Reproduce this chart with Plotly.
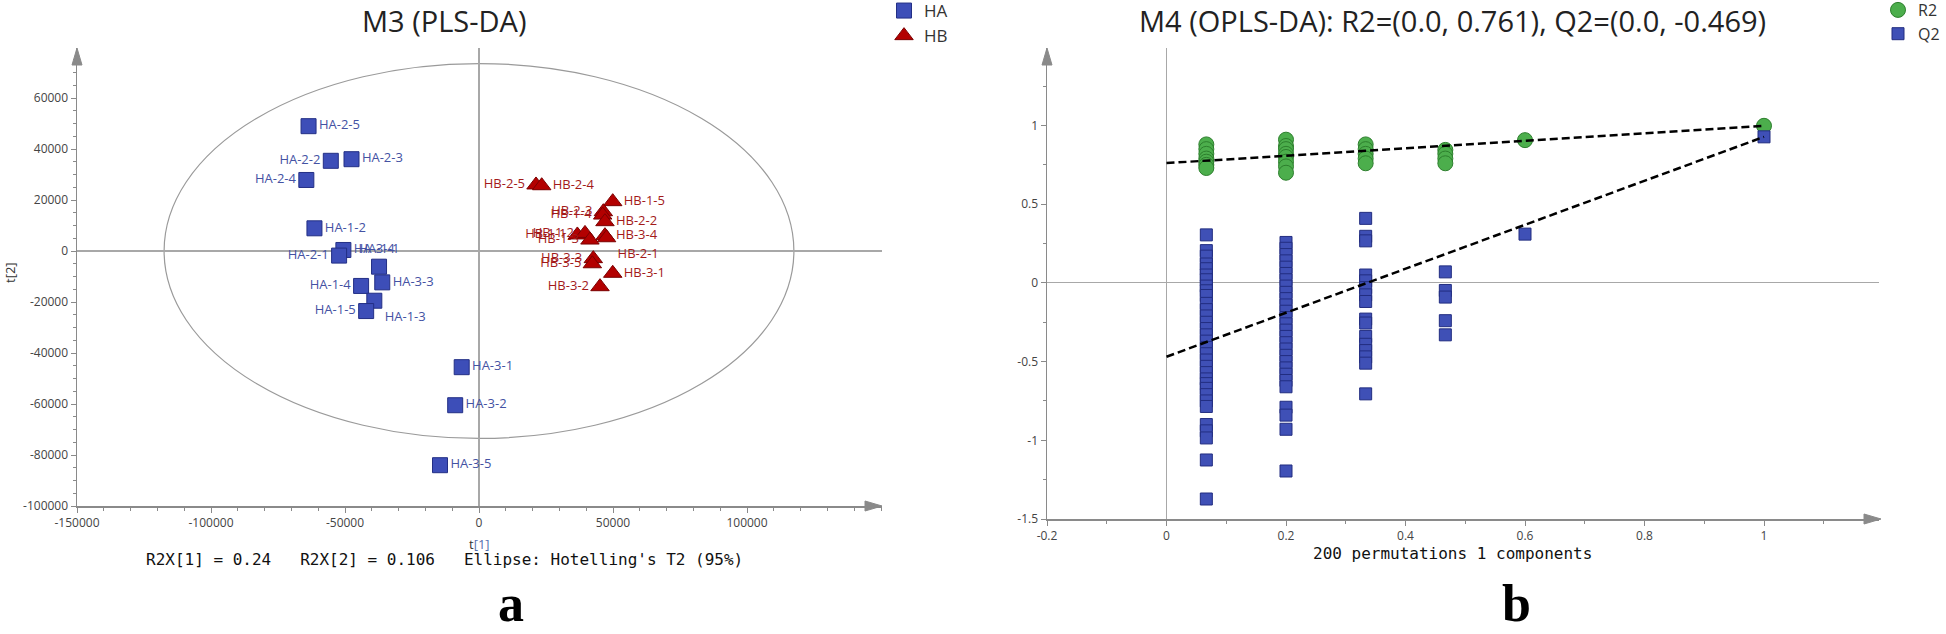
import plotly.graph_objects as go

W, H = 1946, 634

# ---------------- Panel a: PLS-DA score plot ----------------
ha_labels = ["HA-2-5", "HA-2-2", "HA-2-3", "HA-2-4", "HA-1-2", "HA-3-4", "HA-2-1", "HA-1-1",
             "HA-3-3", "HA-1-4", "HA-1-3", "HA-1-5", "HA-3-1", "HA-3-2", "HA-3-5"]
ha_t1 = [-63600, -55300, -47570, -64430, -61400, -50600, -52200, -37300,
         -36100, -44000, -39060, -42100, -6460, -8880, -14550]
ha_t2 = [48950, 35370, 36000, 27850, 8900, 400, -1800, -6150,
         -12300, -13700, -19500, -23550, -45560, -60480, -84000]
ha_pos = ["middle right", "middle left", "middle right", "middle left", "middle right",
          "middle right", "middle left", "top center", "middle right", "middle left",
          "bottom right", "middle left", "middle right", "middle right", "middle right"]

hb_labels = ["HB-2-5", "HB-2-4", "HB-1-5", "HB-2-3", "HB-1-4", "HB-2-2", "HB-3-4", "HB-2-1",
             "HB-1-1", "HB-1-2", "HB-1-3", "HB-3-3", "HB-3-5", "HB-3-1", "HB-3-2"]
hb_t1 = [21270, 23400, 49900, 46400, 46150, 47000, 47000, 47600,
         36700, 39550, 41400, 42650, 42300, 49900, 45150]
hb_t2 = [25900, 25600, 19350, 15400, 14100, 11500, 6000, 5200,
         6300, 6900, 4300, -3000, -5000, -8750, -14000]
hb_pos = ["middle left", "middle right", "middle right", "middle left", "middle left",
          "middle right", "middle right", "bottom right", "middle left", "middle left",
          "middle left", "middle left", "middle left", "middle right", "middle left"]

ellipse_a = 117500   # Hotelling's T2 (95%) semi-axis on t[1]
ellipse_b = 73500    # semi-axis on t[2]

a_xticks = [-150000, -100000, -50000, 0, 50000, 100000]
a_xticktext = ["-150000", "-100000", "-50000", "0", "50000", "100000"]
a_yticks = [-100000, -80000, -60000, -40000, -20000, 0, 20000, 40000, 60000]
a_yticktext = ["-100000", "-80000", "-60000", "-40000", "-20000", "0", "20000", "40000", "60000"]

# ---------------- Panel b: permutation test ----------------
perm_corr = [1 / 15, 3 / 15, 5 / 15, 7 / 15, 9 / 15, 1.0]
r2_cols = [
    [0.88, 0.85, 0.82, 0.79, 0.77, 0.75, 0.73],
    [0.91, 0.87, 0.85, 0.82, 0.80, 0.77, 0.74, 0.70],
    [0.88, 0.85, 0.82, 0.79, 0.76],
    [0.845, 0.82, 0.79, 0.76],
    [0.907],
    [0.998],
]
q2_cols = [
    [0.305, 0.205, 0.17, 0.12, 0.09, 0.05, 0.02, -0.02, -0.05, -0.08, -0.13, -0.17, -0.21,
     -0.25, -0.29, -0.33, -0.37, -0.41, -0.45, -0.49, -0.53, -0.57, -0.61, -0.64, -0.67,
     -0.71, -0.75, -0.785, -0.90, -0.94, -0.985, -1.125, -1.373],
    [0.257, 0.22, 0.18, 0.14, 0.10, 0.06, 0.02, -0.02, -0.06, -0.10, -0.14, -0.18, -0.22,
     -0.26, -0.30, -0.34, -0.38, -0.42, -0.46, -0.50, -0.54, -0.58, -0.62, -0.66,
     -0.79, -0.84, -0.93, -1.195],
    [0.41, 0.296, 0.267, 0.05, 0.013, -0.03, -0.076, -0.118, -0.23, -0.255, -0.34, -0.39,
     -0.43, -0.47, -0.51, -0.705],
    [0.07, -0.048, -0.09, -0.24, -0.33],
    [0.31],
    [0.928],
]
r2_intercept = 0.761
q2_intercept = -0.469
b_xticks = [-0.2, 0, 0.2, 0.4, 0.6, 0.8, 1]
b_xticktext = ["-0.2", "0", "0.2", "0.4", "0.6", "0.8", "1"]
b_yticks = [-1.5, -1, -0.5, 0, 0.5, 1]
b_yticktext = ["-1.5", "-1", "-0.5", "0", "0.5", "1"]

r2_x = [c for c, col in zip(perm_corr, r2_cols) for _ in col]
r2_y = [v for col in r2_cols for v in col]
q2_x = [c for c, col in zip(perm_corr, q2_cols) for _ in col]
q2_y = [v for col in q2_cols for v in col]

# ---------------- layout geometry (pixels) ----------------
def fx(px):
    return px / W

def fy(py):
    return 1 - py / H

A_L, A_R, A_T, A_B = 77, 882, 48, 506
B_L, B_R, B_T, B_B = 1047, 1879, 48, 519

fig = go.Figure()

HA_BLUE = "#3d4eb8"
HB_RED = "#b30000"

fig.add_trace(go.Scatter(
    x=ha_t1, y=ha_t2, mode="markers+text", name="HA", text=ha_labels,
    textposition=ha_pos, textfont=dict(family="Open Sans", size=13, color="#4452a3"),
    marker=dict(symbol="square", size=15, color=HA_BLUE, line=dict(color="#232f85", width=1)),
    xaxis="x", yaxis="y", legend="legend", cliponaxis=False))
fig.add_trace(go.Scatter(
    x=hb_t1, y=hb_t2, mode="markers+text", name="HB", text=hb_labels,
    textposition=hb_pos, textfont=dict(family="Open Sans", size=13, color="#a31a1a"),
    marker=dict(symbol="triangle-up", size=16, color=HB_RED, line=dict(color="#7a0000", width=1)),
    xaxis="x", yaxis="y", legend="legend", cliponaxis=False))

fig.add_trace(go.Scatter(
    x=r2_x, y=r2_y, mode="markers", name="R2",
    marker=dict(symbol="circle", size=15, color="#4cae4c", line=dict(color="#2d7f2d", width=1)),
    xaxis="x2", yaxis="y2", legend="legend2"))
fig.add_trace(go.Scatter(
    x=q2_x, y=q2_y, mode="markers", name="Q2",
    marker=dict(symbol="square", size=12, color="#3f50b6", line=dict(color="#222d80", width=1)),
    xaxis="x2", yaxis="y2", legend="legend2"))

# regression lines of the permutation test
fig.add_trace(go.Scatter(
    x=[0, perm_corr[-1]], y=[r2_intercept, r2_cols[-1][0]], mode="lines", showlegend=False,
    line=dict(color="black", width=2.5, dash="8px,4px"), xaxis="x2", yaxis="y2"))
fig.add_trace(go.Scatter(
    x=[0, perm_corr[-1]], y=[q2_intercept, q2_cols[-1][0]], mode="lines", showlegend=False,
    line=dict(color="black", width=2.5, dash="8px,4px"), xaxis="x2", yaxis="y2"))

AX = "#8a8a8a"
tickfont = dict(family="Open Sans", size=12, color="#444")

def axis(domain, rng, tickvals, ticktext, minor_dtick, anchor):
    return dict(domain=domain, range=rng, anchor=anchor, showline=True, linecolor=AX,
                linewidth=1.5, ticks="outside", tickcolor=AX, ticklen=5, tickwidth=1,
                showgrid=False, zeroline=True, zerolinecolor="#a8a8a8", zerolinewidth=1.2,
                tickmode="array", tickvals=tickvals, ticktext=ticktext, tickfont=tickfont,
                fixedrange=True,
                minor=dict(ticks="outside", ticklen=3, tickcolor=AX, tick0=0,
                           dtick=minor_dtick, showgrid=False))

a_xpp = 50000 / 134.0   # data units per pixel
a_ypp = 20000 / 51.0
b_xpp = 0.2 / 119.5
b_ypp = 0.5 / 78.7

fig.update_layout(
    width=W, height=H, margin=dict(l=0, r=0, t=0, b=0, pad=0, autoexpand=False),
    paper_bgcolor="white", plot_bgcolor="white", hovermode=False,
    xaxis=axis([fx(A_L), fx(A_R)], [-150000, -150000 + (A_R - A_L) * a_xpp],
               a_xticks, a_xticktext, 10000, "y"),
    yaxis=axis([fy(A_B), fy(A_T)], [-100000, -100000 + (A_B - A_T) * a_ypp],
               a_yticks, a_yticktext, 5000, "x"),
    xaxis2=axis([fx(B_L), fx(B_R)], [-0.2, -0.2 + (B_R - B_L) * b_xpp],
                b_xticks, b_xticktext, 0.1, "y2"),
    yaxis2=axis([fy(B_B), fy(B_T)], [-1.5, -1.5 + (B_B - B_T) * b_ypp],
                b_yticks, b_yticktext, 0.25, "x2"),
    legend=dict(x=fx(884), y=fy(-7), xanchor="left", yanchor="top",
                font=dict(family="Open Sans", size=17, color="#333"),
                bgcolor="rgba(0,0,0,0)", itemsizing="trace", tracegroupgap=0),
    legend2=dict(x=fx(1878), y=fy(-7), xanchor="left", yanchor="top",
                 font=dict(family="Open Sans", size=16, color="#333"),
                 bgcolor="rgba(0,0,0,0)", itemsizing="trace", tracegroupgap=0),
    showlegend=True,
)

# Hotelling's T2 ellipse
fig.add_shape(type="circle", xref="x", yref="y", x0=-ellipse_a, x1=ellipse_a,
              y0=-ellipse_b, y1=ellipse_b, line=dict(color="#9a9a9a", width=1.2), layer="below")

# axis arrowheads
def arrow_right(tx, ty):
    return (f"M {fx(tx)},{fy(ty)} L {fx(tx - 17)},{fy(ty - 5)} "
            f"L {fx(tx - 17)},{fy(ty + 5)} Z")

def arrow_up(tx, ty):
    return (f"M {fx(tx)},{fy(ty)} L {fx(tx - 5)},{fy(ty + 17)} "
            f"L {fx(tx + 5)},{fy(ty + 17)} Z")

for p in [arrow_right(A_R, A_B), arrow_up(A_L, A_T), arrow_right(B_R + 2, B_B), arrow_up(B_L, B_T)]:
    fig.add_shape(type="path", xref="paper", yref="paper", path=p,
                  fillcolor="#8a8a8a", line=dict(color="#8a8a8a", width=1))

NB = "\u00a0"
ann = [
    dict(text="M3 (PLS-DA)", x=fx(444), y=fy(20), font=dict(family="Open Sans", size=29, color="#222")),
    dict(text="M4 (OPLS-DA): R2=(0.0, 0.761), Q2=(0.0, -0.469)", x=fx(1452), y=fy(20),
         font=dict(family="Open Sans", size=29, color="#222")),
    dict(text=f"R2X[1] = 0.24{NB}{NB}{NB}R2X[2] = 0.106{NB}{NB}{NB}Ellipse: Hotelling's T2 (95%)",
         x=fx(444), y=fy(559), font=dict(family="DejaVu Sans Mono", size=16, color="#111")),
    dict(text="200 permutations 1 components", x=fx(1452), y=fy(553),
         font=dict(family="DejaVu Sans Mono", size=16, color="#111")),
    dict(text="t<span style='color:#5670b0'>[1]</span>", x=fx(479), y=fy(544),
         font=dict(family="Open Sans", size=13, color="#333")),
    dict(text="t[2]", x=fx(10), y=fy(273), textangle=-90,
         font=dict(family="Open Sans", size=13, color="#333")),
]
for a in ann:
    a.update(xref="paper", yref="paper", showarrow=False, xanchor="center", yanchor="middle")
ann += [
    dict(text="<b>a</b>", x=fx(511), y=0, xref="paper", yref="paper", showarrow=False,
         xanchor="center", yanchor="bottom", font=dict(family="Liberation Serif", size=52, color="black")),
    dict(text="<b>b</b>", x=fx(1516), y=0, xref="paper", yref="paper", showarrow=False,
         xanchor="center", yanchor="bottom", font=dict(family="Liberation Serif", size=52, color="black")),
]
fig.update_layout(annotations=ann)

fig.write_html("out.html", config={"displayModeBar": False, "staticPlot": True},
               post_script="document.body.style.margin='0px';document.body.style.overflow='hidden';")
